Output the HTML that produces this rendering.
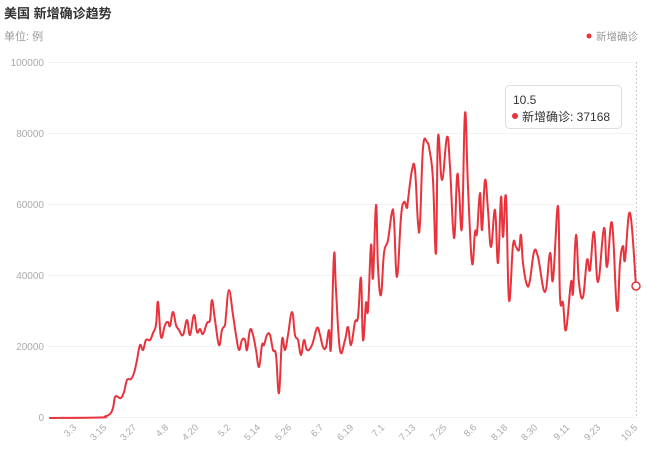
<!DOCTYPE html>
<html><head><meta charset="utf-8"><style>
body{margin:0;background:#fff;width:647px;height:458px;overflow:hidden;font-family:"Liberation Sans","Noto Sans CJK SC",sans-serif;}
</style></head><body>
<svg width="647" height="458" xmlns="http://www.w3.org/2000/svg" style="position:absolute;left:0;top:0">
<text x="4" y="18" font-size="13" font-weight="bold" fill="#333" font-family="Liberation Sans,Noto Sans CJK SC,sans-serif">美国 新增确诊趋势</text>
<text x="4" y="40" font-size="11" fill="#999" font-family="Liberation Sans,Noto Sans CJK SC,sans-serif">单位: 例</text>
<circle cx="589" cy="36" r="2.5" fill="#e8333c"/>
<text x="596" y="40" font-size="10.5" fill="#999" font-family="Liberation Sans,Noto Sans CJK SC,sans-serif">新增确诊</text>
<g stroke="#f3f3f3" stroke-width="1">
<line x1="48" x2="636" y1="62.5" y2="62.5"/><line x1="48" x2="636" y1="133.5" y2="133.5"/><line x1="48" x2="636" y1="204.5" y2="204.5"/><line x1="48" x2="636" y1="275.5" y2="275.5"/><line x1="48" x2="636" y1="346.5" y2="346.5"/><line x1="48" x2="636" y1="417.5" y2="417.5"/>
</g>
<g font-size="10" fill="#aaa" text-anchor="end" font-family="Liberation Sans,sans-serif">
<text x="44" y="66">100000</text><text x="44" y="137">80000</text><text x="44" y="208">60000</text><text x="44" y="279">40000</text><text x="44" y="350">20000</text><text x="44" y="421">0</text>
</g>
<g font-size="9.5" fill="#aaa" text-anchor="end" font-family="Liberation Sans,sans-serif">
<text transform="translate(77,428) rotate(-45)">3.3</text>
<text transform="translate(107,428) rotate(-45)">3.15</text>
<text transform="translate(137,428) rotate(-45)">3.27</text>
<text transform="translate(169,428) rotate(-45)">4.8</text>
<text transform="translate(199,428) rotate(-45)">4.20</text>
<text transform="translate(231,428) rotate(-45)">5.2</text>
<text transform="translate(261,428) rotate(-45)">5.14</text>
<text transform="translate(292,428) rotate(-45)">5.26</text>
<text transform="translate(324,428) rotate(-45)">6.7</text>
<text transform="translate(354,428) rotate(-45)">6.19</text>
<text transform="translate(385,428) rotate(-45)">7.1</text>
<text transform="translate(416,428) rotate(-45)">7.13</text>
<text transform="translate(447,428) rotate(-45)">7.25</text>
<text transform="translate(477,428) rotate(-45)">8.6</text>
<text transform="translate(508,428) rotate(-45)">8.18</text>
<text transform="translate(538,428) rotate(-45)">8.30</text>
<text transform="translate(570,428) rotate(-45)">9.11</text>
<text transform="translate(601,428) rotate(-45)">9.23</text>
<text transform="translate(638,428) rotate(-45)">10.5</text>
</g>
<line x1="636.5" x2="636.5" y1="62" y2="418" stroke="#ccc" stroke-dasharray="2,2"/>
<path id="ln" fill="none" stroke="#e8333c" stroke-width="2" stroke-linejoin="round" stroke-linecap="round" d=""/>
<circle cx="636" cy="286" r="4" fill="#fff" stroke="#e8333c" stroke-width="1.5"/>
<rect x="505.5" y="85.5" width="116" height="43" rx="4" fill="#fff" stroke="#ddd"/>
<text x="513" y="104" font-size="12" fill="#333" font-family="Liberation Sans,sans-serif">10.5</text>
<circle cx="515" cy="116" r="3" fill="#e8333c"/>
<text x="522" y="121" font-size="12" fill="#333" font-family="Liberation Sans,Noto Sans CJK SC,sans-serif">新增确诊: 37168</text>
</svg>
<script>
var s="50,418 100,417.5 105,416.5 110,414 113,408 115,397 118,397 121,398 124,392 127,380 131,379 134,373 137,360 140,345 143,350 146,340 150,340 153,333 156,325 158,302 161,337 165,325 168,322 170,326 173,312 176,325 179,330 183,335 187,320 190,335 194,315 197,332 200,329 203,334 207,323 210,320 212,300 215,320 219,345 222,330 225,325 226,315 229,290 233,315 236,335 239,350 242,340 245,340 247,350 250,330 253,335 256,350 259,367 262,345 264,345 267,335 270,335 273,350 276,355 279,393 282,340 285,350 288,335 292,312 295,335 298,340 301,355 304,340 307,350 312,345 317,328 320,335 323,347 326,347 329,330 331,347 334,255 336,290 340,350 345,340 348,327 351,345 355,322 358,317 361,278 363,340 366,303 368,310 371,245 373,278 376,205 378,267 381,295 384,253 388,240 392,212 394,220 397,277 401,217 404,202 407,208 408,200 412,170 415,170 418,223 420,223 423,148 427,142 430,153 433,180 436,253 438,137 442,180 447,137 450,167 454,238 457,177 459,190 462,227 465,113 468,187 472,263 475,232 477,233 480,193 482,230 485,180 488,210 491,247 495,210 498,263 501,197 503,237 506,197 509,300 513,245 516,247 519,250 521,235 523,263 527,285 530,280 534,252 538,257 545,292 550,253 553,280 558,206 560,297 563,303 566,330 571,282 573,293 576,235 579,283 583,297 587,260 590,270 594,232 598,282 604,228 607,267 612,223 617,310 620,263 623,246 625,260 630,213 636,286";
var p=s.split(" ").map(function(a){return a.split(",").map(Number);});
var d="M"+p[0][0]+","+p[0][1];
for(var i=0;i<p.length-1;i++){var a=p[i>0?i-1:0],b=p[i],c=p[i+1],e=p[i+2<p.length?i+2:i+1];var t=0.2;
d+=" C"+(b[0]+(c[0]-a[0])*t)+","+(b[1]+(c[1]-a[1])*t)+" "+(c[0]-(e[0]-b[0])*t)+","+(c[1]-(e[1]-b[1])*t)+" "+c[0]+","+c[1];}
document.getElementById("ln").setAttribute("d",d);
</script>
</body></html>
